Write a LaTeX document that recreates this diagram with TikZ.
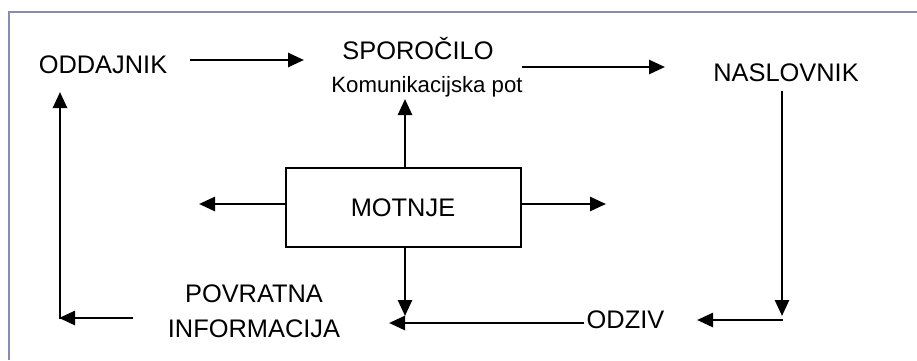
\documentclass[tikz,border=0pt]{standalone}
\usepackage{fontspec}
\setmainfont{Liberation Sans}
\usetikzlibrary{arrows.meta}
\definecolor{framec}{RGB}{138,138,182}
\begin{document}
\begin{tikzpicture}[x=1pt,y=-1pt,
  lbl/.style={font=\fontsize{25.4}{35}\selectfont, inner sep=0pt, anchor=base},
  smalllbl/.style={font=\fontsize{22.2}{25}\selectfont, inner sep=0pt, anchor=base},
  arr/.style={line width=2.6pt, -{Triangle[length=16pt,width=14pt]}},
  boxst/.style={draw, line width=2pt, minimum width=235pt, minimum height=79pt, inner sep=0pt, font=\fontsize{25.4}{30}\selectfont},
  framest/.style={draw=framec, line width=2pt}]
\useasboundingbox (0,0) rectangle (917,360);
\draw[framest] (9,360) -- (9,11.5) -- (917,11.5);

% nodes
\node[lbl] (odd) at (103,73) {ODDAJNIK};
\node[lbl] (spo) at (418,59) {SPOROČILO};
\node[smalllbl] (kom) at (427,92) {Komunikacijska pot};
\node[lbl] (nas) at (786,81) {NASLOVNIK};
\node[boxst] (mot) at (403,207.5) {MOTNJE};
\node[lbl] (odz) at (625.5,328) {ODZIV};
\node[lbl, align=center] (pov) at (254,337) {POVRATNA\\INFORMACIJA};

% free ends / corners
\coordinate (a1s) at (190,60);
\coordinate (a1e) at (304,60);
\coordinate (a2s) at (522,67);
\coordinate (a2e) at (665,67);
\coordinate (a3s) at (782,91);
\coordinate (a3e) at (782,316);
\coordinate (a4s) at (783,320);
\coordinate (a4e) at (697,320);
\coordinate (a5s) at (584,323);
\coordinate (a5e) at (389,323);
\coordinate (a6e) at (405,316);
\coordinate (a7e) at (405,99);
\coordinate (a8e) at (199,204);
\coordinate (a9e) at (606,204);
\coordinate (a10s) at (133,318);
\coordinate (a10e) at (59,318);
\coordinate (a11e) at (60,92);

% connectors
\draw[arr] (a1s) -- (a1e);
\draw[arr] (a2s) -- (a2e);
\draw[arr] (a3s) -- (a3e);
\draw[arr] (a4s) -- (a4e);
\draw[arr] (a5s) -- (a5e);
\draw[arr] ([xshift=2pt]mot.south) -- (a6e);
\draw[arr] ([xshift=2pt]mot.north) -- (a7e);
\draw[arr] (mot.west |- a8e) -- (a8e);
\draw[arr] (mot.east |- a9e) -- (a9e);
\draw[arr] (a10s) -- (a10e);
\draw[arr] (60,319.3) -- (a11e);
\end{tikzpicture}
\end{document}
